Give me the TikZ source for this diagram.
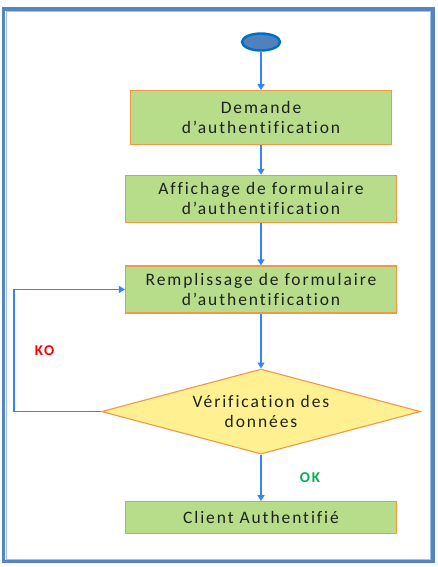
\documentclass[tikz,border=0pt]{standalone}
\usepackage{fontspec}
\setmainfont{Carlito}[LetterSpace=11, RawFeature=-liga]
\usepackage{tikz}
\usetikzlibrary{arrows.meta,positioning,shapes.geometric}
\definecolor{corvert}{RGB}{183,221,138}
\definecolor{corjaune}{RGB}{255,241,145}
\definecolor{corbord}{RGB}{243,150,70}
\definecolor{corfleche}{RGB}{52,132,255}
\definecolor{corcadre}{RGB}{84,132,196}
\definecolor{corcadreclair}{RGB}{160,192,230}
\definecolor{cordebut}{RGB}{79,129,189}
\definecolor{cordebutbord}{RGB}{0,110,200}
\definecolor{cortexte}{RGB}{30,34,30}
\definecolor{corko}{RGB}{255,0,0}
\definecolor{corok}{RGB}{0,176,80}

\begin{document}
\begin{tikzpicture}[
  x=1pt, y=1pt,
  etape/.style={rectangle, draw=corbord, line width=1.1pt, fill=corvert,
                minimum width=271pt, minimum height=47pt, inner sep=0pt,
                align=center, text=cortexte, font=\fontsize{17.5}{20}\selectfont},
  test/.style={diamond, draw=corbord, line width=1.1pt, fill=corjaune,
               aspect=3.75, minimum width=319pt, minimum height=85pt, inner sep=0pt,
               align=center, text=cortexte, font=\fontsize{17.5}{20}\selectfont},
  debut/.style={ellipse, draw=cordebutbord, line width=2.4pt, fill=cordebut,
                minimum width=38pt, minimum height=17pt, inner sep=0pt},
  fleche/.style={-{Triangle[width=7pt,length=6pt]}, line width=1.3pt, color=corfleche},
  etiq/.style={font=\fontsize{15}{15}\selectfont\bfseries}
]
  \useasboundingbox (0,0) rectangle (437,-567);
  \draw[corcadre, line width=3.2pt] (3.5,-9) rectangle (433,-561.5);
  \draw[corcadreclair, line width=0.8pt] (6,-11.5) rectangle (430.5,-559);

  \node[debut] (debut) at (261,-42) {};
  \node[etape, below=38.5pt of debut, minimum width=261pt, minimum height=54pt] (demande) {Demande\\ d’authentification};
  \node[etape, below=29.5pt of demande] (affichage) {Affichage de formulaire\\ d’authentification};
  \node[etape, below=42.5pt of affichage] (rempl) {Remplissage de formulaire\\ d’authentification};
  \node[test, below=55pt of rempl] (verif) {Vérification des\\ données};
  \node[etape, below=46.5pt of verif, minimum height=32pt] (client) {Client Authentifié};
  \coordinate (boucle) at (14,0);

  \draw[fleche] (debut) -- (demande);
  \draw[fleche] (demande) -- (affichage);
  \draw[fleche] (affichage) -- (rempl);
  \draw[fleche] (rempl) -- (verif);
  \draw[fleche] (verif) -- node[etiq, right=35pt, text=corok]{OK} (client);
  \draw[fleche] (verif.west) -- (verif.west -| boucle) |- node[pos=0.25, etiq, right=17pt, text=corko]{KO} (rempl.west);
\end{tikzpicture}
\end{document}
